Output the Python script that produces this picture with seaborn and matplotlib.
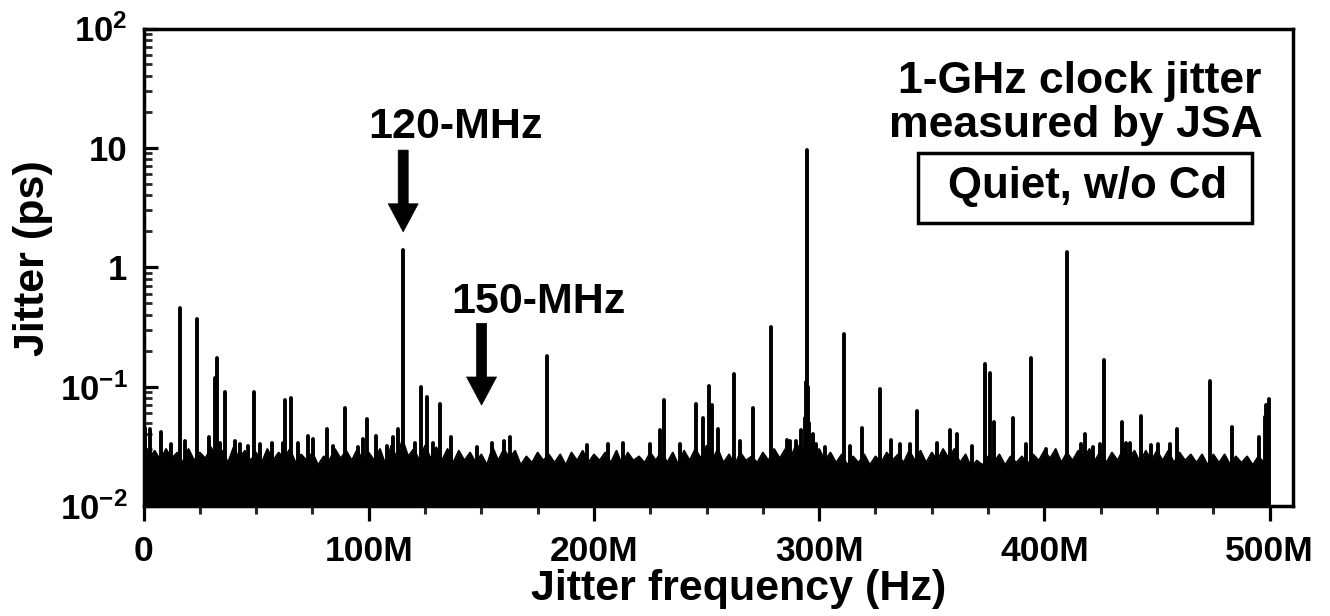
import numpy as np
import pandas as pd
import matplotlib
matplotlib.use("Agg")
import matplotlib.pyplot as plt
import seaborn as sns
from matplotlib.ticker import FixedLocator, FixedFormatter, MultipleLocator, LogLocator, NullFormatter
from matplotlib.patches import Rectangle

# ---------------- data ----------------
# noise-floor local maxima, every 5 MHz from 0 to 500 MHz (ps)
noise_peak_freq_mhz = np.arange(0, 505, 5)
noise_peak_ps = [
    0.036, 0.029, 0.030, 0.028, 0.030, 0.028, 0.031, 0.029, 0.031, 0.029,   # 0-45
    0.028, 0.030, 0.028, 0.030, 0.027, 0.028, 0.026, 0.030, 0.029, 0.030,   # 50-95
    0.028, 0.030, 0.032, 0.036, 0.030, 0.032, 0.031, 0.030, 0.029, 0.028,   # 100-145
    0.027, 0.031, 0.030, 0.029, 0.026, 0.028, 0.027, 0.027, 0.028, 0.029,   # 150-195
    0.027, 0.028, 0.029, 0.028, 0.026, 0.028, 0.029, 0.028, 0.029, 0.030,   # 200-245
    0.032, 0.030, 0.027, 0.028, 0.026, 0.028, 0.030, 0.030, 0.033, 0.040,   # 250-295
    0.030, 0.028, 0.027, 0.026, 0.027, 0.026, 0.028, 0.027, 0.029, 0.029,   # 300-345
    0.028, 0.030, 0.030, 0.027, 0.024, 0.026, 0.027, 0.026, 0.026, 0.027,   # 350-395
    0.029, 0.030, 0.028, 0.029, 0.030, 0.029, 0.028, 0.030, 0.029, 0.029,   # 400-445
    0.029, 0.029, 0.028, 0.027, 0.027, 0.027, 0.027, 0.026, 0.026, 0.026,   # 450-495
    0.030,                                                                  # 500
]
# noise-floor local minima, at 2.5, 7.5, ... 497.5 MHz (ps)
noise_dip_freq_mhz = np.arange(2.5, 500, 5)
noise_dip_ps = [
    0.025, 0.024, 0.025, 0.023, 0.024, 0.025, 0.024, 0.023, 0.025, 0.024,   # 2.5-47.5
    0.023, 0.024, 0.025, 0.023, 0.024, 0.022, 0.024, 0.025, 0.024, 0.023,   # 52.5-97.5
    0.024, 0.022, 0.025, 0.026, 0.024, 0.025, 0.024, 0.023, 0.024, 0.023,   # 102.5-147.5
    0.022, 0.024, 0.025, 0.022, 0.023, 0.024, 0.023, 0.022, 0.024, 0.023,   # 152.5-197.5
    0.024, 0.023, 0.022, 0.024, 0.023, 0.024, 0.023, 0.022, 0.024, 0.025,   # 202.5-247.5
    0.024, 0.023, 0.022, 0.024, 0.023, 0.024, 0.025, 0.026, 0.028, 0.027,   # 252.5-297.5
    0.024, 0.023, 0.022, 0.023, 0.022, 0.023, 0.024, 0.023, 0.024, 0.023,   # 302.5-347.5
    0.024, 0.025, 0.023, 0.021, 0.022, 0.023, 0.022, 0.023, 0.022, 0.024,   # 352.5-397.5
    0.025, 0.023, 0.024, 0.025, 0.024, 0.023, 0.024, 0.025, 0.023, 0.024,   # 402.5-447.5
    0.024, 0.023, 0.024, 0.023, 0.022, 0.023, 0.022, 0.023, 0.022, 0.023,   # 452.5-497.5
]

# discrete spurs (MHz, ps)
spike_freq_mhz = [
    0.8, 2.9, 7.9, 12.1, 16.1, 18.4, 23.9, 29.2, 31.6, 32.5,
    33.9, 36.2, 40.6, 42.8, 46.5, 48.9, 51.7, 56.9, 62.1, 62.9,
    65.3, 68.4, 73.2, 75.4, 81.3, 84.3, 89.3, 95.3, 97.6, 99.2,
    103.2, 107.9, 110.9, 113.1, 115.3, 120.5, 123.3, 125.8, 128.6, 131.5,
    136.6, 147.9, 154.6, 160.0, 162.7, 179.0, 196.7, 206.3, 213.0, 225.1,
    229.3, 231.2, 238.1, 245.5, 248.5, 250.9, 252.2, 254.9, 262.0, 264.8,
    270.4, 278.4, 285.5, 287.0, 289.6, 292.1, 293.8, 294.2, 294.6, 295.0,
    295.5, 297.3, 298.7, 302.5, 310.9, 313.6, 319.0, 327.2, 331.8, 335.8,
    340.3, 343.5, 352.1, 358.0, 361.2, 367.9, 373.5, 376.0, 377.5, 386.1,
    392.0, 393.9, 400.9, 410.2, 416.4, 418.2, 421.6, 424.6, 426.6, 434.5,
    436.1, 438.2, 442.9, 447.5, 450.4, 455.6, 459.0, 473.7, 483.4, 495.3,
    498.1, 498.5, 499.7,
]
spike_ps = [
    0.045, 0.044, 0.042, 0.033, 0.453, 0.035, 0.368, 0.0375, 0.118, 0.173,
    0.034, 0.091, 0.035, 0.033, 0.032, 0.091, 0.033, 0.034, 0.034, 0.078,
    0.080, 0.034, 0.0383, 0.0364, 0.044, 0.032, 0.066, 0.031, 0.0364, 0.054,
    0.0383, 0.032, 0.0375, 0.044, 1.39, 0.034, 0.099, 0.082, 0.034, 0.071,
    0.038, 0.031, 0.034, 0.035, 0.038, 0.180, 0.0325, 0.033, 0.034, 0.033,
    0.043, 0.078, 0.033, 0.072, 0.055, 0.102, 0.070, 0.044, 0.127, 0.035,
    0.066, 0.318, 0.036, 0.035, 0.035, 0.043, 0.055, 0.11, 9.6, 0.10,
    0.05, 0.040, 0.033, 0.031, 0.276, 0.032, 0.045, 0.095, 0.036, 0.033,
    0.033, 0.062, 0.034, 0.0435, 0.040, 0.032, 0.155, 0.130, 0.051, 0.055,
    0.033, 0.173, 0.030, 1.33, 0.033, 0.040, 0.031, 0.033, 0.167, 0.051,
    0.0335, 0.0335, 0.057, 0.0325, 0.033, 0.033, 0.044, 0.111, 0.046, 0.038,
    0.056, 0.070, 0.079,
]

x_tick_values = [0, 100, 200, 300, 400, 500]
x_tick_labels = ["0", "100M", "200M", "300M", "400M", "500M"]
y_tick_values = [1e-2, 1e-1, 1, 10, 100]
y_tick_labels = ["$10^{-2}$", "$10^{-1}$", "1", "10", "$10^{2}$"]

# annotation arrows: frequency, arrow top (ps), arrow tip (ps)
arrow_freq_mhz = [115.3, 150.1]
arrow_top_ps = [9.58, 0.339]
arrow_tip_ps = [1.98, 0.0701]

# ---------------- styling ----------------
sns.set_theme(style="ticks")
plt.rcParams["font.family"] = ["Liberation Sans", "DejaVu Sans"]
plt.rcParams["font.weight"] = "bold"
plt.rcParams["mathtext.fontset"] = "custom"
plt.rcParams["mathtext.rm"] = "Liberation Sans:bold"
plt.rcParams["mathtext.bf"] = "Liberation Sans:bold"
plt.rcParams["mathtext.it"] = "Liberation Sans:bold"
plt.rcParams["axes.unicode_minus"] = False

fig = plt.figure(figsize=(13.3, 6.16), dpi=100)
fig.patch.set_facecolor("white")
ax = fig.add_axes([143.5 / 1330, 1 - 506 / 616, (1293.3 - 143.5) / 1330, (506 - 28.5) / 616])
ax.set_facecolor("white")
ax.set_yscale("log")

# noise floor: peaks and dips merged along frequency
noise_df = pd.concat([
    pd.DataFrame({"f": noise_peak_freq_mhz, "j": noise_peak_ps}),
    pd.DataFrame({"f": noise_dip_freq_mhz, "j": noise_dip_ps}),
]).sort_values("f").reset_index(drop=True)
ax.fill_between(noise_df["f"], 1e-2, noise_df["j"], color="black", lw=0, zorder=2)
sns.lineplot(data=noise_df, x="f", y="j", color="black", lw=1.4, estimator=None,
             sort=False, ax=ax, zorder=3)

# spurs
spike_df = pd.DataFrame({"f": spike_freq_mhz, "j": spike_ps})
ax.vlines(spike_df["f"], 1e-2, spike_df["j"], color="black", lw=2.8, zorder=3, capstyle="round")

ax.set_xlim(0, 510.5)
ax.set_ylim(1e-2, 1e2)

# ticks
ax.xaxis.set_major_locator(FixedLocator(x_tick_values))
ax.xaxis.set_major_formatter(FixedFormatter(x_tick_labels))
ax.xaxis.set_minor_locator(MultipleLocator(25))
ax.yaxis.set_major_locator(FixedLocator(y_tick_values))
ax.yaxis.set_major_formatter(FixedFormatter(y_tick_labels))
ax.yaxis.set_minor_locator(LogLocator(base=10, subs=np.arange(2, 10)))
ax.yaxis.set_minor_formatter(NullFormatter())

ax.tick_params(axis="x", which="major", direction="out", length=11, width=2.3, pad=10, labelsize=25.5, colors="black")
ax.tick_params(axis="x", which="minor", direction="out", length=6, width=2.2)
ax.tick_params(axis="y", which="major", direction="in", length=10, width=2.3, pad=11.5, labelsize=25, colors="black")
ax.tick_params(axis="y", which="minor", direction="in", length=5.5, width=2.0)
ax.tick_params(which="both", top=False, right=False)
for lab in ax.get_xticklabels() + ax.get_yticklabels():
    lab.set_fontweight("bold")

for sp in ax.spines.values():
    sp.set_visible(True)
    sp.set_linewidth(2.5)
    sp.set_color("black")
ax.grid(False)

ax.set_xlabel("Jitter frequency (Hz)", fontsize=31, fontweight="bold", color="black")
ax.set_ylabel("Jitter (ps)", fontsize=31, fontweight="bold", color="black")
ax.xaxis.set_label_coords(0.518, -0.131)
ax.yaxis.set_label_coords(-0.0784, 0.5187)

# arrows
for f, top, tip in zip(arrow_freq_mhz, arrow_top_ps, arrow_tip_ps):
    ax.annotate("", xy=(f, tip), xytext=(f, top),
                arrowprops=dict(arrowstyle="simple,head_length=1.01,head_width=1.08,tail_width=0.36",
                                color="black", lw=0.5, shrinkA=0, shrinkB=0, mutation_scale=20),
                zorder=5)

# texts
ax.text(0.271, 0.770, "120-MHz", transform=ax.transAxes, ha="center", va="baseline",
        fontsize=31, fontweight="bold", color="black")
ax.text(0.343, 0.4036, "150-MHz", transform=ax.transAxes, ha="center", va="baseline",
        fontsize=31, fontweight="bold", color="black")
ax.text(0.9725, 0.864, "1-GHz clock jitter", transform=ax.transAxes, ha="right", va="baseline",
        fontsize=32, fontweight="bold", color="black")
ax.text(0.9735, 0.773, "measured by JSA", transform=ax.transAxes, ha="right", va="baseline",
        fontsize=32, fontweight="bold", color="black")
ax.add_patch(Rectangle((0.674, 0.592), 0.29, 0.1466, transform=ax.transAxes,
                       facecolor="white", edgecolor="black", lw=2.5, zorder=6))
ax.text(0.8212, 0.644, "Quiet, w/o Cd", transform=ax.transAxes, ha="center", va="baseline",
        fontsize=31.5, fontweight="bold", color="black", zorder=7)

fig.savefig("out.png", dpi=100, facecolor="white")
